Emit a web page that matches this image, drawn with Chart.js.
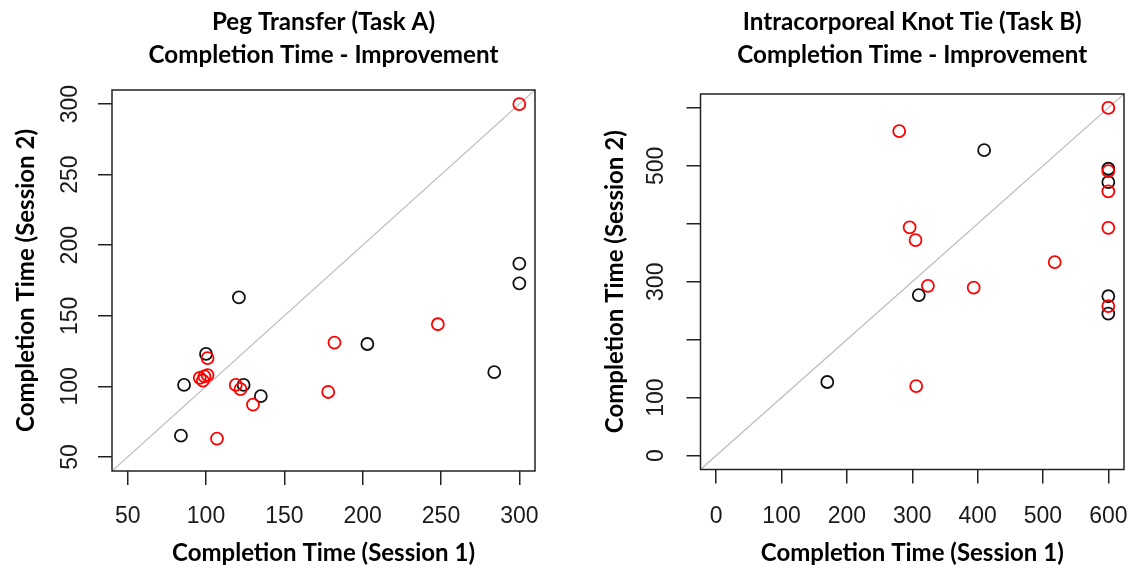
<!DOCTYPE html>
<html>
<head>
<meta charset="utf-8">
<script src="https://cdn.jsdelivr.net/npm/chart.js@4.4.1/dist/chart.umd.min.js"></script>
<style>
  html, body { margin: 0; padding: 0; background: #fff; }
  #wrap { position: relative; width: 1133px; height: 575px; overflow: hidden; }
  canvas { position: absolute; top: 0; }
</style>
</head>
<body>
<div id="wrap">
  <canvas id="chartA" width="575" height="575" style="left:0"></canvas>
  <canvas id="chartB" width="558" height="575" style="left:575px"></canvas>
</div>
<script>
// Task A - Peg Transfer
const taskATitle = ['Peg Transfer (Task A)', 'Completion Time - Improvement'];
const taskABlackX = [121, 100, 86, 124, 135, 84, 203, 284, 300, 300];
const taskABlackY = [163, 123, 101, 101, 93, 65, 130, 110, 187, 173];
const taskARedX = [300, 248, 182, 178, 101, 96, 98, 99, 101, 119, 122, 130, 107];
const taskARedY = [300, 144, 131, 96, 120, 106, 104, 107, 108, 101, 98, 87, 63];
const taskATicks = [50, 100, 150, 200, 250, 300];
const taskARange = [40, 310];

// Task B - Intracorporeal Knot Tie
const taskBTitle = ['Intracorporeal Knot Tie (Task B)', 'Completion Time - Improvement'];
const taskBBlackX = [170, 310, 410, 600, 600, 600, 600];
const taskBBlackY = [127, 277, 527, 495, 472, 275, 245];
const taskBRedX = [600, 280, 600, 600, 600, 296, 305, 518, 324, 394, 600, 306];
const taskBRedY = [600, 560, 491, 456, 393, 394, 372, 334, 293, 290, 258, 120];
const taskBTicks = [0, 100, 200, 300, 400, 500, 600];
const taskBYLabels = ['0', '100', '', '300', '', '500', ''];
const taskBRange = [-24, 624];

const xAxisTitle = 'Completion Time (Session 1)';
const yAxisTitle = 'Completion Time (Session 2)';
const diagonal = [-100, 1000];   // y = x reference line

// pick the first installed font from a list
function pickFont(names) {
    const ctx = document.createElement('canvas').getContext('2d');
    const probe = 'Completion Time 0123456789';
    for (const n of names) {
        for (const base of ['monospace', 'serif']) {
            ctx.font = `bold 40px ${base}`;
            const w0 = ctx.measureText(probe).width;
            ctx.font = `bold 40px "${n}", ${base}`;
            if (ctx.measureText(probe).width !== w0) return n;
        }
    }
    return 'sans-serif';
}

// font size that makes text the given width
function fitSize(text, family, target) {
    const ctx = document.createElement('canvas').getContext('2d');
    ctx.font = `bold 100px "${family}"`;
    return 100 * target / ctx.measureText(text).width;
}

const titleFont = pickFont(['Lato', 'Open Sans', 'Liberation Sans']);
const tickFont = pickFont(['Liberation Sans', 'Arimo', 'DejaVu Sans']);
const titleSize = fitSize(taskATitle[1], titleFont, 350);
const axisTitleSize = fitSize(xAxisTitle, titleFont, 303);

const toPoints = (xs, ys) => xs.map((x, i) => ({ x, y: ys[i] }));

const boxPlugin = {
    id: 'plotBox',
    afterDraw(chart) {
        const { ctx, chartArea: a } = chart;
        ctx.save();
        ctx.strokeStyle = '#222';
        ctx.lineWidth = 1.5;
        ctx.strokeRect(a.left, a.top, a.right - a.left, a.bottom - a.top);
        ctx.restore();
    }
};

function makePlot(id, p) {
    const tickValues = p.ticks;
    const common = {
        type: 'linear',
        min: p.range[0],
        max: p.range[1],
        border: { display: false },
        grid: { drawOnChartArea: false, drawTicks: true, tickLength: 14, color: '#222', lineWidth: 1.5 },
        afterBuildTicks: s => { s.ticks = tickValues.map(v => ({ value: v })); },
    };
    return new Chart(document.getElementById(id), {
        type: 'scatter',
        data: {
            datasets: [
                { data: toPoints(p.redX, p.redY), borderColor: '#ff0000', order: 0 },
                { data: toPoints(p.blackX, p.blackY), borderColor: '#111', order: 1 },
                {
                    type: 'line', data: toPoints(diagonal, diagonal), borderColor: '#bebebe',
                    borderWidth: 1.3, pointRadius: 0, clip: 0, order: 2
                }
            ]
        },
        options: {
            responsive: false,
            animation: false,
            events: [],
            elements: { point: { radius: 6, borderWidth: 1.8, backgroundColor: 'rgba(0,0,0,0)' } },
            layout: { padding: { left: 0, right: p.padRight, top: 0, bottom: 0 } },
            plugins: {
                legend: { display: false },
                tooltip: { enabled: false },
                title: {
                    display: true,
                    fullSize: false,
                    text: p.title,
                    color: '#000',
                    font: { family: titleFont, weight: 'bold', size: titleSize, lineHeight: '33px' },
                    padding: { top: 5.5, bottom: p.plotTop - 71.5 }
                }
            },
            scales: {
                x: {
                    ...common,
                    position: 'bottom',
                    afterFit: s => {
                        s.height = 575 - p.plotBottom;
                        s.paddingLeft = 0;
                        s.paddingRight = 0;
                    },
                    ticks: {
                        autoSkip: false, maxRotation: 0, minRotation: 0, padding: p.xTickPad, color: '#1a1a1a',
                        font: { family: tickFont, size: 23 },
                        callback: v => String(v)
                    },
                    title: {
                        display: true, text: xAxisTitle, color: '#000',
                        font: { family: titleFont, weight: 'bold', size: axisTitleSize, lineHeight: '24px' },
                        padding: { top: 0, bottom: 10 }
                    }
                },
                y: {
                    ...common,
                    position: 'left',
                    afterFit: s => {
                        s.width = p.plotLeft;
                        s.paddingTop = 0;
                        s.paddingBottom = 0;
                    },
                    ticks: {
                        autoSkip: false, minRotation: 90, maxRotation: 90, crossAlign: 'center',
                        padding: p.yTickPad, color: '#1a1a1a',
                        font: { family: tickFont, size: 23 },
                        callback: (v, i) => p.yLabels ? p.yLabels[i] : String(v)
                    },
                    title: {
                        display: true, text: yAxisTitle, color: '#000',
                        font: { family: titleFont, weight: 'bold', size: axisTitleSize, lineHeight: '24px' },
                        padding: { top: p.yTitlePad, bottom: 0 }
                    }
                }
            }
        },
        plugins: [boxPlugin]
    });
}

makePlot('chartA', {
    title: taskATitle, redX: taskARedX, redY: taskARedY, blackX: taskABlackX, blackY: taskABlackY,
    ticks: taskATicks, range: taskARange,
    plotLeft: 112, plotTop: 90, plotBottom: 471, padRight: 40,
    xTickPad: 18, yTickPad: 8, yTitlePad: 14
});

makePlot('chartB', {
    title: taskBTitle, redX: taskBRedX, redY: taskBRedY, blackX: taskBBlackX, blackY: taskBBlackY,
    ticks: taskBTicks, range: taskBRange, yLabels: taskBYLabels,
    plotLeft: 125.5, plotTop: 94, plotBottom: 469.5, padRight: 9,
    xTickPad: 19, yTickPad: 11, yTitlePad: 28
});
</script>
</body>
</html>
